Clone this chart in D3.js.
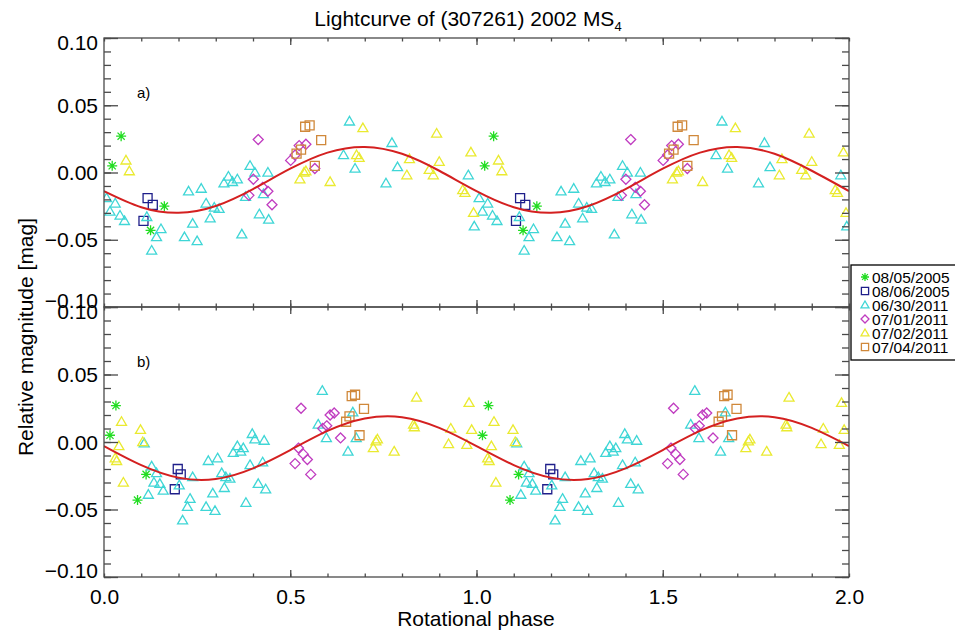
<!DOCTYPE html>
<html lang="en">
<head>
<meta charset="UTF-8">
<title>Lightcurve of (307261) 2002 MS4</title>
<script src="https://d3js.org/d3.v7.min.js"></script>
<style>
  body { margin: 0; background: #fff; }
  svg { display: block; font-family: "Liberation Sans", Arial, Helvetica, sans-serif; }
  .frame { fill: none; stroke: #4a4a4a; stroke-width: 1.3; }
  .tick line { stroke: #4a4a4a; stroke-width: 1.3; }
  .domain { display: none; }
  .fit { fill: none; stroke: #d42020; stroke-width: 2; }
</style>
</head>
<body>
<div id="chart"></div>
<script>
// phase, relative magnitude (phases in [0,1); each point is plotted again at phase + 1)
// panel a)
const a_0805 = [[0.022, 0.005], [0.046, 0.027], [0.125, -0.043], [0.162, -0.025]];
const a_0806 = [[0.117, -0.019], [0.131, -0.024], [0.106, -0.036]];
const a_0630 = [[0.007, -0.019], [0.016, -0.029], [0.030, -0.023], [0.043, -0.032], [0.055, -0.036],
  [0.115, -0.033], [0.128, -0.058], [0.141, -0.048], [0.153, -0.042], [0.216, -0.048], [0.227, -0.014],
  [0.238, -0.038], [0.250, -0.051], [0.261, -0.012], [0.274, -0.023], [0.285, -0.034], [0.296, -0.026],
  [0.309, -0.027], [0.322, -0.008], [0.334, -0.003], [0.345, -0.007], [0.358, -0.005], [0.370, -0.046],
  [0.380, -0.018], [0.392, 0.005], [0.405, 0.000], [0.417, -0.031], [0.428, -0.016], [0.440, 0.000],
  [0.442, -0.035], [0.643, 0.013], [0.659, 0.038], [0.674, 0.003], [0.757, -0.008], [0.773, 0.022],
  [0.788, 0.004], [0.978, -0.002], [0.994, -0.040]];
const a_0701 = [[0.414, 0.0245], [0.401, -0.005], [0.389, -0.017], [0.426, -0.011], [0.440, -0.014],
  [0.451, -0.024], [0.501, 0.009], [0.513, 0.013], [0.524, 0.020], [0.542, 0.021], [0.566, 0.003]];
const a_0702 = [[0.059, 0.009], [0.068, 0.001], [0.526, -0.005], [0.537, 0.000], [0.542, 0.001],
  [0.607, -0.007], [0.678, 0.013], [0.685, 0.011], [0.695, 0.033], [0.813, -0.002], [0.820, 0.010],
  [0.873, 0.002], [0.884, -0.002], [0.893, 0.029], [0.900, 0.008], [0.963, -0.013], [0.969, -0.015],
  [0.985, 0.015], [0.992, -0.030]];
const a_0704 = [[0.540, 0.034], [0.552, 0.035], [0.583, 0.024], [0.566, 0.005], [0.517, 0.014], [0.529, 0.017]];

// panel b)
const b_0805 = [[0.016, 0.005], [0.032, 0.027], [0.090, -0.043], [0.113, -0.024]];
const b_0806 = [[0.198, -0.020], [0.206, -0.024], [0.190, -0.035]];
const b_0630 = [[0.108, -0.001], [0.119, -0.039], [0.128, -0.018], [0.134, -0.030], [0.141, -0.023],
  [0.150, -0.031], [0.159, -0.036], [0.202, -0.032], [0.211, -0.058], [0.224, -0.048], [0.231, -0.042],
  [0.238, -0.026], [0.274, -0.048], [0.280, -0.014], [0.292, -0.038], [0.298, -0.051], [0.305, -0.012],
  [0.316, -0.023], [0.323, -0.034], [0.327, -0.026], [0.338, -0.027], [0.347, -0.008], [0.358, -0.003],
  [0.367, -0.007], [0.374, -0.0045], [0.381, -0.045], [0.392, -0.017], [0.398, 0.006], [0.405, 0.002],
  [0.414, -0.031], [0.426, -0.015], [0.430, 0.001], [0.434, -0.035], [0.575, 0.013], [0.586, 0.038],
  [0.597, 0.003], [0.655, -0.007], [0.668, 0.022], [0.677, 0.003]];
const b_0701 = [[0.529, 0.025], [0.607, 0.020], [0.618, 0.0215], [0.598, 0.012], [0.587, 0.010],
  [0.635, 0.003], [0.522, -0.0045], [0.535, -0.009], [0.546, -0.013], [0.513, -0.016], [0.555, -0.024]];
const b_0702 = [[0.030, -0.012], [0.034, -0.014], [0.040, -0.003], [0.047, 0.015], [0.052, -0.030],
  [0.098, 0.009], [0.104, 0.000], [0.723, -0.0045], [0.730, 0.0005], [0.734, 0.002], [0.779, -0.007],
  [0.831, 0.013], [0.833, 0.011], [0.839, 0.033], [0.925, -0.0015], [0.931, 0.010], [0.974, -0.002],
  [0.980, 0.029], [0.987, 0.009]];
const b_0704 = [[0.665, 0.034], [0.674, 0.035], [0.698, 0.0245], [0.659, 0.019], [0.650, 0.015], [0.686, 0.005]];

// fitted curves
const fitPhase = [0, 0.1, 0.2, 0.3, 0.4, 0.5, 0.6, 0.7, 0.8, 0.9, 1.0,
  1.1, 1.2, 1.3, 1.4, 1.5, 1.6, 1.7, 1.8, 1.9, 2.0];
const fitA = [-0.0138, -0.0258, -0.0300, -0.0249, -0.0123, 0.0028, 0.0148, 0.0190, 0.0139, 0.0013, -0.0138,
  -0.0258, -0.0300, -0.0249, -0.0123, 0.0028, 0.0148, 0.0190, 0.0139, 0.0013, -0.0138];
const fitB = [-0.0030, -0.0171, -0.0264, -0.0274, -0.0195, -0.0060, 0.0082, 0.0174, 0.0184, 0.0105, -0.0030,
  -0.0171, -0.0264, -0.0274, -0.0195, -0.0060, 0.0082, 0.0174, 0.0184, 0.0105, -0.0030];

const legendLabels = ["08/05/2005", "08/06/2005", "06/30/2011", "07/01/2011", "07/02/2011", "07/04/2011"];
const symbolTypes = ["asterisk", "square", "triangle", "diamond", "triangle", "square"];
const symbolColors = ["#22dd22", "#1e1e8a", "#3fd6d6", "#c03cc0", "#eaea30", "#d0883a"];
const yMajor = [-0.10, -0.05, 0.00, 0.05, 0.10];

const width = 955, height = 630;
const left = 104, right = 849;
const svg = d3.select("#chart").append("svg").attr("width", width).attr("height", height);

const x = d3.scaleLinear().domain([0, 2]).range([left, right]);

function symbolPath(type, s) {
  if (type === "triangle") return `M0,${-s}L${s},${s * 0.72}L${-s},${s * 0.72}Z`;
  if (type === "square") return `M${-s * 0.9},${-s * 0.9}h${s * 1.8}v${s * 1.8}h${-s * 1.8}Z`;
  if (type === "diamond") return `M0,${-s}L${s},0L0,${s}L${-s},0Z`;
  const d = s * 0.72;
  return `M${-s},0H${s}M0,${-s}V${s}M${-d},${-d}L${d},${d}M${-d},${d}L${d},${-d}`;
}

function panel(top, bottom, series, fit, tag, id, showXLabels) {
  const y = d3.scaleLinear().domain([-0.1, 0.1]).range([bottom, top]);
  const g = svg.append("g");

  g.append("clipPath").attr("id", "clip" + id)
    .append("rect").attr("x", left).attr("y", top).attr("width", right - left).attr("height", bottom - top);

  const plot = g.append("g").attr("clip-path", `url(#clip${id})`);

  series.forEach((data, i) => {
    const pts = data.concat(data.map(d => [d[0] + 1, d[1]]));
    plot.selectAll(null).data(pts).enter().append("path")
      .attr("transform", d => `translate(${x(d[0])},${y(d[1])})`)
      .attr("d", symbolPath(symbolTypes[i], 5))
      .attr("fill", "none")
      .attr("stroke", symbolColors[i])
      .attr("stroke-width", 1.3);
  });

  const line = d3.line().x((d, i) => x(fitPhase[i])).y(d => y(d)).curve(d3.curveNatural);
  plot.append("path").datum(fit).attr("class", "fit").attr("d", line);

  // y axes (ticks point inward)
  g.append("g").attr("transform", `translate(${left},0)`)
    .call(d3.axisLeft(y).tickValues(d3.range(-10, 11).map(v => v / 100)).tickSize(-7).tickFormat(""));
  const yl = g.append("g").attr("transform", `translate(${left},0)`)
    .call(d3.axisLeft(y).tickValues(yMajor).tickSize(-14).tickPadding(6).tickFormat(d3.format(".2f")));
  yl.selectAll("text").attr("font-size", 21).attr("fill", "#000").attr("font-family", null)
    .attr("dy", d => d === 0.1 ? "0.57em" : d === -0.1 ? "0.0em" : "0.34em");
  g.append("g").attr("transform", `translate(${right},0)`)
    .call(d3.axisRight(y).tickValues(d3.range(-10, 11).map(v => v / 100)).tickSize(-7).tickFormat(""));
  g.append("g").attr("transform", `translate(${right},0)`)
    .call(d3.axisRight(y).tickValues(yMajor).tickSize(-14).tickFormat(""));

  // x axes
  const minor = d3.range(0, 21).map(v => v / 10);
  g.append("g").attr("transform", `translate(0,${top})`)
    .call(d3.axisTop(x).tickValues(minor).tickSize(-3.5).tickFormat(""));
  g.append("g").attr("transform", `translate(0,${top})`)
    .call(d3.axisTop(x).tickValues([0.5, 1.0, 1.5]).tickSize(-7).tickFormat(""));
  g.append("g").attr("transform", `translate(0,${bottom})`)
    .call(d3.axisBottom(x).tickValues(minor).tickSize(-3.5).tickFormat(""));
  const xl = g.append("g").attr("transform", `translate(0,${bottom})`)
    .call(d3.axisBottom(x).tickValues([0, 0.5, 1.0, 1.5, 2.0]).tickSize(-7).tickPadding(12.5)
      .tickFormat(showXLabels ? d3.format(".1f") : ""));
  xl.selectAll("text").attr("font-size", 21).attr("fill", "#000").attr("font-family", null);
  xl.selectAll("line").filter(d => d === 0 || d === 2).remove();

  g.append("rect").attr("class", "frame")
    .attr("x", left).attr("y", top).attr("width", right - left).attr("height", bottom - top);

  g.append("text").attr("x", 137).attr("y", top + 60).attr("font-size", 15).text(tag);
}

panel(38, 307, [a_0805, a_0806, a_0630, a_0701, a_0702, a_0704], fitA, "a)", "a", false);
panel(307, 577, [b_0805, b_0806, b_0630, b_0701, b_0702, b_0704], fitB, "b)", "b", true);

// title
const title = svg.append("text").attr("x", 468).attr("y", 26).attr("text-anchor", "middle").attr("font-size", 21);
title.append("tspan").text("Lightcurve of (307261) 2002 MS");
title.append("tspan").attr("font-size", 13).attr("dy", 5).text("4");

// axis titles
svg.append("text").attr("x", 476).attr("y", 626).attr("text-anchor", "middle").attr("font-size", 21)
  .text("Rotational phase");
svg.append("text").attr("transform", "translate(33,337) rotate(-90)").attr("text-anchor", "middle")
  .attr("font-size", 21).text("Relative magnitude [mag]");

// legend
const lg = svg.append("g");
lg.append("rect").attr("x", 851).attr("y", 265).attr("width", 110).attr("height", 95)
  .attr("fill", "#fff").attr("stroke", "#000").attr("stroke-width", 1.3);
const rowY = d3.scalePoint().domain(legendLabels).range([277, 347]);
legendLabels.forEach((lab, i) => {
  lg.append("path").attr("transform", `translate(865,${rowY(lab)})`)
    .attr("d", symbolPath(symbolTypes[i], 4)).attr("fill", "none")
    .attr("stroke", symbolColors[i]).attr("stroke-width", 1.3);
  lg.append("text").attr("x", 872).attr("y", rowY(lab) + 5.5).attr("font-size", 15.5).text(lab);
});
</script>
</body>
</html>
